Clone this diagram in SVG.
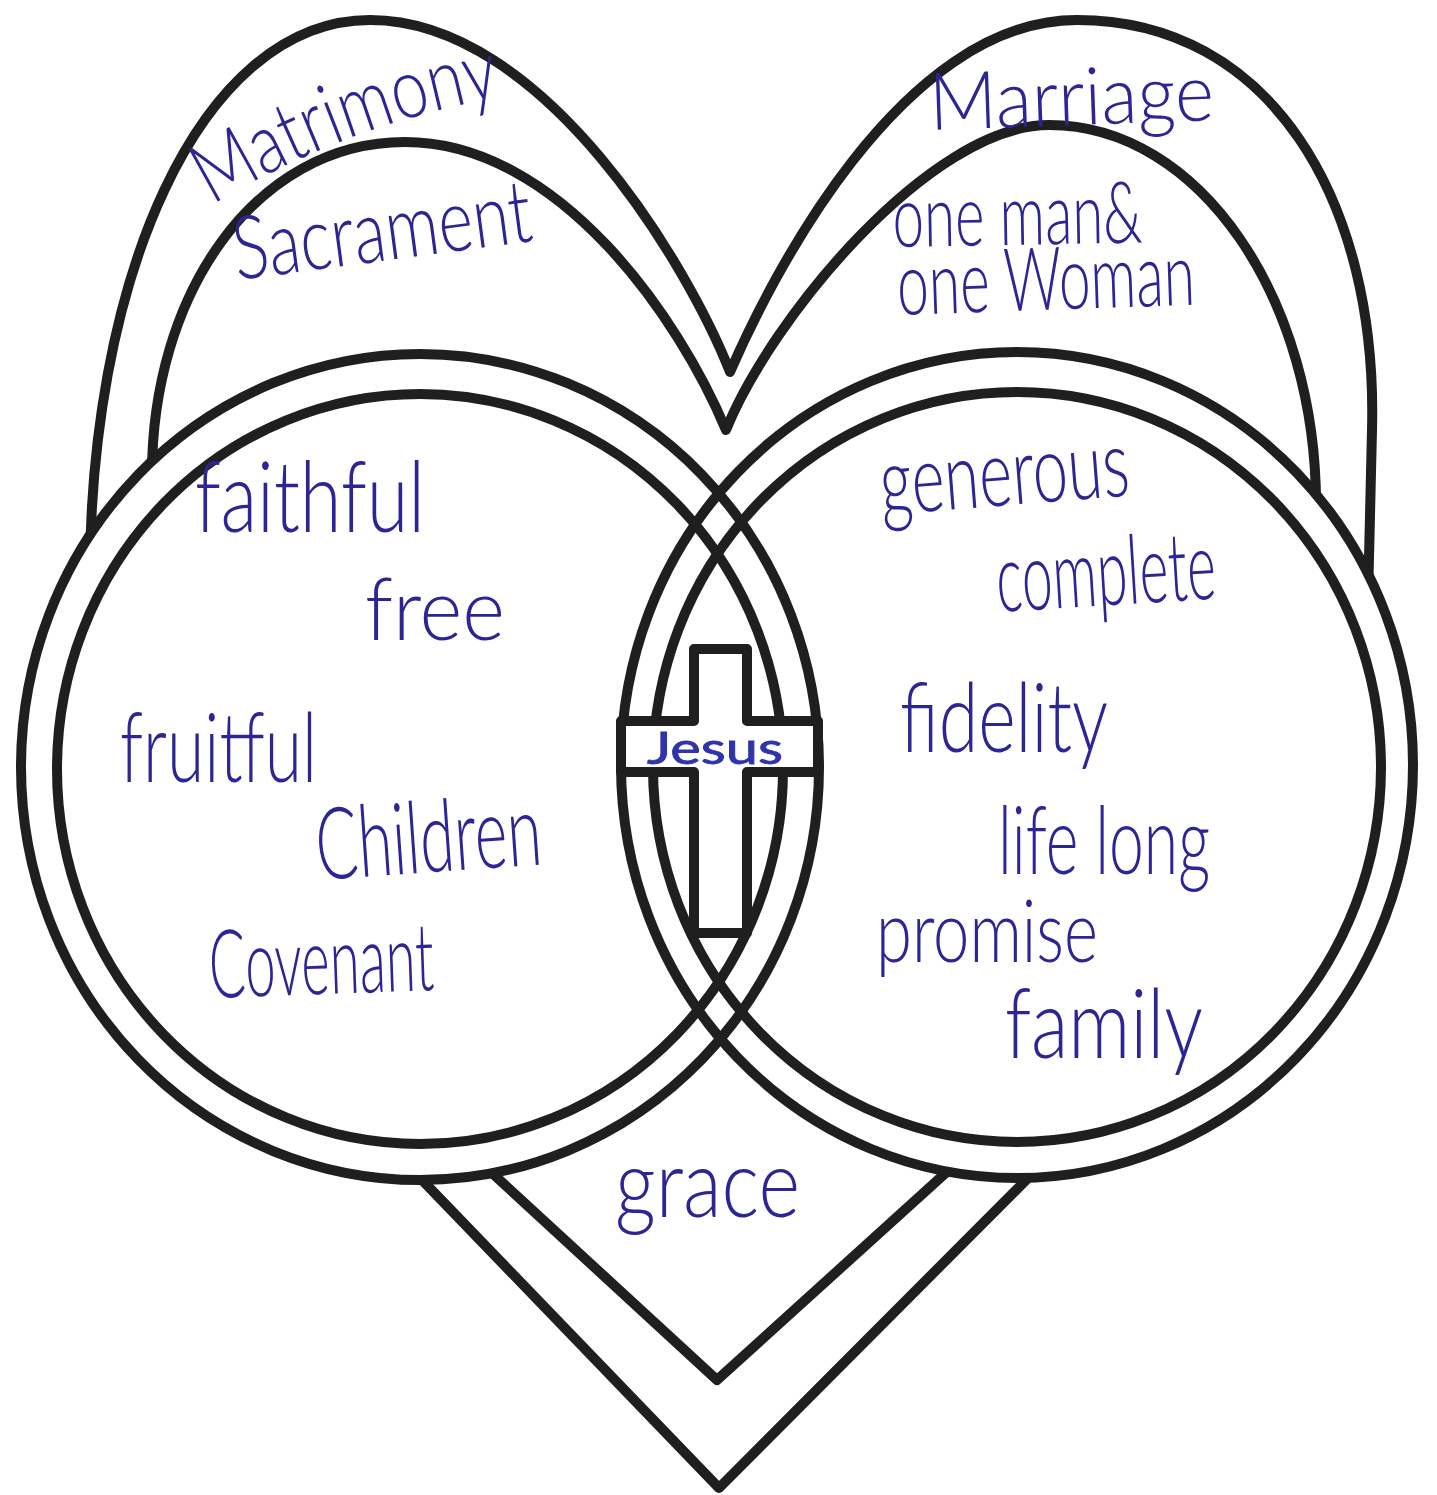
<svg xmlns="http://www.w3.org/2000/svg" xmlns:xlink="http://www.w3.org/1999/xlink" width="1437" height="1495" viewBox="0 0 1437 1495">
<style>
.line{fill:none;stroke:#1f1f1f;stroke-width:10;stroke-linejoin:round}
.cover{fill:#ffffff;stroke:none}
.ink{font-family:Lato,"Open Sans","DejaVu Sans",sans-serif;font-weight:300;fill:#2d2594}
.jesus{font-family:Lato,"DejaVu Sans",sans-serif;font-weight:400;fill:#2f34aa;stroke:#2f34aa;stroke-width:0.8}
</style>
<defs>
<path id="matrimony-path" d="M 212,205 C 272,170 368,118 518,94"/>
</defs>
<rect width="1437" height="1495" fill="#ffffff"/>
<g id="hearts">
<path id="outer-heart" class="line" d="M 719,1488 L 396,1153 L 90,600 C 85,280 200,20 370,20 C 545,20 690,270 730,372 C 770,280 900,20 1077,20 C 1270,20 1378,200 1372,430 L 1368,600 L 1053,1153 Z"/>
<path id="inner-heart" class="line" d="M 717,1380 L 467,1150 L 152,480 C 150,295 255,142 405,142 C 560,142 680,320 726,430 C 770,320 930,125 1049,125 C 1200,125 1318,300 1316,510 L 971,1150 Z"/>
</g>
<g id="circle-cover">
<ellipse class="cover" cx="420" cy="767" rx="399" ry="413"/>
<ellipse class="cover" cx="1017" cy="765" rx="396" ry="413"/>
</g>
<g id="circles">
<ellipse id="left-outer" class="line" cx="420" cy="767" rx="399" ry="413"/>
<ellipse id="left-inner" class="line" cx="420" cy="769" rx="363" ry="375"/>
<ellipse id="right-outer" class="line" cx="1017" cy="765" rx="396" ry="413"/>
<ellipse id="right-inner" class="line" cx="1017" cy="767" rx="364" ry="375"/>
</g>
<g id="cross">
<path class="line" style="fill:#ffffff" d="M 694,649 L 747,649 L 747,721 L 818,721 L 818,772 L 747,772 L 747,933 L 694,933 L 694,772 L 621,772 L 621,721 L 694,721 Z"/>
<text class="jesus" x="647" y="764" font-size="44" textLength="136" lengthAdjust="spacingAndGlyphs">Jesus</text>
</g>
<g id="labels">
<text class="ink" font-size="84"><textPath xlink:href="#matrimony-path" href="#matrimony-path" textLength="310" lengthAdjust="spacingAndGlyphs">Matrimony</textPath></text>
<text class="ink" x="237" y="280" font-size="88" textLength="300" lengthAdjust="spacingAndGlyphs" transform="rotate(-7.5 237 280)">Sacrament</text>
<text class="ink" x="930" y="130" font-size="80" textLength="285" lengthAdjust="spacingAndGlyphs" transform="rotate(-2 930 130)">Marriage</text>
<text class="ink" x="893" y="247" font-size="86" textLength="250" lengthAdjust="spacingAndGlyphs" transform="rotate(-1 893 247)">one man&amp;</text>
<text class="ink" x="898" y="315" font-size="88" textLength="298" lengthAdjust="spacingAndGlyphs" transform="rotate(-2 898 315)">one Woman</text>
<text class="ink" x="195" y="532" font-size="98" textLength="230" lengthAdjust="spacingAndGlyphs">faithful</text>
<text class="ink" x="365" y="640" font-size="86" textLength="140" lengthAdjust="spacingAndGlyphs">free</text>
<text class="ink" x="120" y="782" font-size="96" textLength="197" lengthAdjust="spacingAndGlyphs">fruitful</text>
<text class="ink" x="318" y="880" font-size="100" textLength="226" lengthAdjust="spacingAndGlyphs" transform="rotate(-4 318 880)">Children</text>
<text class="ink" x="210" y="998" font-size="95" textLength="225" lengthAdjust="spacingAndGlyphs" transform="rotate(-2 210 998)">Covenant</text>
<text class="ink" x="882" y="515" font-size="94" textLength="250" lengthAdjust="spacingAndGlyphs" transform="rotate(-4.5 882 515)">generous</text>
<text class="ink" x="998" y="612" font-size="96" textLength="220" lengthAdjust="spacingAndGlyphs" transform="rotate(-3.5 998 612)">complete</text>
<text class="ink" x="900" y="752" font-size="96" textLength="208" lengthAdjust="spacingAndGlyphs">fidelity</text>
<text class="ink" x="998" y="874" font-size="94" textLength="212" lengthAdjust="spacingAndGlyphs">life long</text>
<text class="ink" x="876" y="962" font-size="86" textLength="222" lengthAdjust="spacingAndGlyphs">promise</text>
<text class="ink" x="1005" y="1058" font-size="96" textLength="198" lengthAdjust="spacingAndGlyphs">family</text>
<text class="ink" x="615" y="1217" font-size="95" textLength="185" lengthAdjust="spacingAndGlyphs">grace</text>
</g>
</svg>
